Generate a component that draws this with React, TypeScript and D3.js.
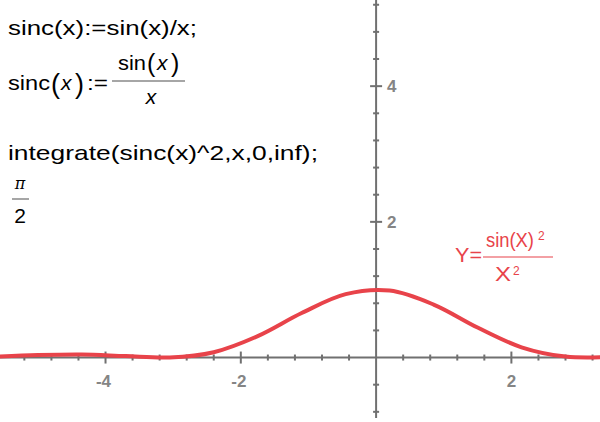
import React from "react";
import * as d3 from "d3";

// sampled points of the plotted curve (x, y)
const sampleX = [-5.65, -5.0, -4.35, -3.7, -3.05, -2.4, -1.75, -1.1, -0.45, 0.2, 0.85, 1.5, 2.15, 2.8, 3.45];
const sampleY = [0.011, 0.037, 0.046, 0.021, 0.001, 0.079, 0.316, 0.656, 0.934, 0.987, 0.781, 0.442, 0.151, 0.014, 0.008];

const xMajorLabels = ["-4", "-2", "2"];
const yMajorLabels = ["2", "4"];

const W = 600;
const H = 422;
const AXIS = "#707070";
const RED = "#e8434a";
const TICKLAB = "#858585";
const FONT = "'Liberation Sans', Arial, Helvetica, sans-serif";

export default function App() {
  const x = d3.scaleLinear().domain([-5.56, 3.31]).range([0, W]);
  const y = d3.scaleLinear().domain([-0.95, 5.27]).range([H, 0]);

  const pts: [number, number][] = sampleX.map((v, i) => [v, sampleY[i]]);
  const line = d3
    .line<[number, number]>()
    .x((d) => x(d[0]))
    .y((d) => y(d[1]))
    .curve(d3.curveCatmullRom.alpha(0.5));

  const xTicks: number[] = [];
  for (let k = -13; k <= 8; k++) xTicks.push(Math.round(k * 4) / 10);
  const yTicks: number[] = [];
  for (let k = -2; k <= 13; k++) yTicks.push(Math.round(k * 4) / 10);
  const isMajor = (v: number) => Math.abs(v) > 1e-9 && Math.abs(Math.round(v * 10) % 20) === 0;

  const x0 = x(0);
  const y0 = y(0);

  return (
    <svg width={W} height={H} style={{ position: "absolute", left: 0, top: 0, background: "#fff" }} fontFamily={FONT}>
      {/* axes */}
      <line x1={0} x2={W} y1={y0} y2={y0} stroke={AXIS} strokeWidth={2} />
      <line x1={x0} x2={x0} y1={0} y2={418} stroke={AXIS} strokeWidth={2} />
      {xTicks.filter((v) => Math.abs(v) > 1e-9).map((v) => {
        const m = isMajor(v);
        return (
          <line key={"xt" + v} x1={x(v)} x2={x(v)} y1={y0 - (m ? 6 : 3)} y2={y0 + (m ? 6 : 3)} stroke={AXIS} strokeWidth={2} />
        );
      })}
      {yTicks.filter((v) => Math.abs(v) > 1e-9).map((v) => {
        const m = isMajor(v);
        return (
          <line key={"yt" + v} y1={y(v)} y2={y(v)} x1={x0 - (m ? 6 : 3)} x2={x0 + (m ? 6 : 3)} stroke={AXIS} strokeWidth={2} />
        );
      })}
      {xMajorLabels.map((l) => (
        <text key={"xl" + l} x={x(+l) - (l.startsWith("-") ? 2 : 0)} y={y0 + 29} textAnchor="middle" fontSize={17} fontWeight={600} fill={TICKLAB}>
          {l}
        </text>
      ))}
      {yMajorLabels.map((l) => (
        <text key={"yl" + l} x={x0 + 11} y={y(+l) + 6} textAnchor="start" fontSize={17} fontWeight={600} fill={TICKLAB}>
          {l}
        </text>
      ))}

      {/* curve */}
      <path d={line(pts) || ""} fill="none" stroke={RED} strokeWidth={4} strokeLinejoin="round" strokeLinecap="round" />

      {/* math text */}
      <text x={8} y={35} fontSize={21} fill="#000" textLength={189} lengthAdjust="spacingAndGlyphs">
        sinc(x):=sin(x)/x;
      </text>
      <text x={8} y={90} fontSize={21} fill="#000" textLength={42} lengthAdjust="spacingAndGlyphs">sinc</text>
      <text x={51} y={93} fontSize={27} fill="#000">(</text>
      <text x={61} y={90} fontSize={21} fontStyle="italic" fill="#000">x</text>
      <text x={75} y={93} fontSize={27} fill="#000">)</text>
      <text x={87} y={90} fontSize={21} fill="#000" textLength={21} lengthAdjust="spacingAndGlyphs">:=</text>
      <text x={118} y={70} fontSize={21} fill="#000" textLength={28} lengthAdjust="spacingAndGlyphs">sin</text>
      <text x={147} y={72} fontSize={25} fill="#000">(</text>
      <text x={157} y={70} fontSize={21} fontStyle="italic" fill="#000">x</text>
      <text x={171} y={72} fontSize={25} fill="#000">)</text>
      <line x1={112} x2={185} y1={81} y2={81} stroke="#888" strokeWidth={1.5} />
      <text x={151} y={104} fontSize={21} fontStyle="italic" fill="#000" textAnchor="middle">x</text>

      <text x={8} y={160} fontSize={21} fill="#000" textLength={310} lengthAdjust="spacingAndGlyphs">
        integrate(sinc(x)^2,x,0,inf);
      </text>
      <text x={20} y={189} fontSize={16} fontStyle="italic" fontFamily="'DejaVu Serif', serif" fill="#000" textAnchor="middle">π</text>
      <line x1={12} x2={29} y1={199} y2={199} stroke="#888" strokeWidth={1.5} />
      <text x={20} y={223} fontSize={21} fill="#000" textAnchor="middle">2</text>

      {/* red label */}
      <g fill={RED} fontSize={20}>
        <text x={455} y={262} textLength={27} lengthAdjust="spacingAndGlyphs">Y=</text>
        <text x={486} y={247} textLength={48} lengthAdjust="spacingAndGlyphs">sin(X)</text>
        <text x={538} y={240} fontSize={12}>2</text>
        <line x1={483} x2={553} y1={257} y2={257} stroke={RED} strokeWidth={1.2} />
        <text x={495} y={281} textLength={16} lengthAdjust="spacingAndGlyphs">X</text>
        <text x={513} y={275} fontSize={12}>2</text>
      </g>
    </svg>
  );
}
